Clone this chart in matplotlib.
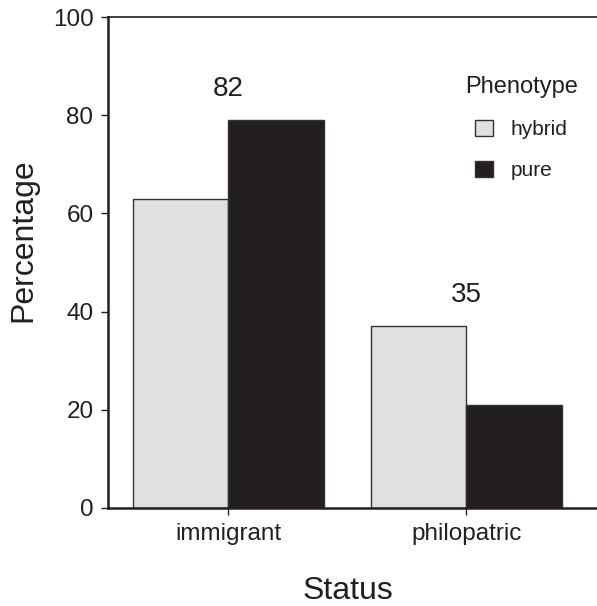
import matplotlib
matplotlib.use("Agg")
import matplotlib.pyplot as plt
from matplotlib.patches import Patch
import numpy as np

plt.rcParams['font.family'] = ['Liberation Sans', 'DejaVu Sans']

categories = ["immigrant", "philopatric"]
phenotypes = ["hybrid", "pure"]
hybrid_vals = [63, 37]
pure_vals = [79, 21]
group_counts = ["82", "35"]
yticks = [0, 20, 40, 60, 80, 100]

c_hybrid = "#dfe0e2"
c_pure = "#231f20"
c_edge = "#333333"
c_text = "#231f20"

W, H = 597, 606
fig = plt.figure(figsize=(W / 100, H / 100), dpi=100)
ax_l, ax_r, ax_b, ax_t = 108, 597, 508, 17
ax = fig.add_axes([ax_l / W, (H - ax_b) / H, (ax_r - ax_l) / W, (ax_b - ax_t) / H])

x = np.arange(len(categories))
bw = 0.4
ax.bar(x - bw / 2, hybrid_vals, bw, color=c_hybrid, edgecolor=c_edge, linewidth=1.0, zorder=2)
ax.bar(x + bw / 2, pure_vals, bw, color=c_pure, edgecolor=c_edge, linewidth=1.0, zorder=2)

for xi, h, p, lab in zip(x, hybrid_vals, pure_vals, group_counts):
    ax.text(xi, max(h, p) + 6.3, lab, ha='center', va='center', fontsize=20, color=c_text)

ax.set_xlim(-0.505, 1.548)
ax.set_ylim(0, 100)
ax.set_xticks(x)
ax.set_xticklabels(categories)
ax.set_yticks(yticks)
ax.set_yticklabels([str(v) for v in yticks])
ax.tick_params(axis='both', length=5, width=1, color='#231f20', labelcolor='#231f20',
               labelsize=17.5, pad=5.5)
ax.tick_params(axis='x', pad=5.5)

ax.spines['right'].set_visible(False)
ax.spines['top'].set_linewidth(1.2)
ax.spines['left'].set_linewidth(1.8)
ax.spines['bottom'].set_linewidth(1.8)
for s in ax.spines.values():
    s.set_color('#231f20')

fig.text(23 / W, (H - 240) / H, "Percentage", rotation=90, ha='center', va='center',
         fontsize=23, color=c_text)
fig.text(348 / W, (H - 599) / H, "Status", ha='center', va='baseline',
         fontsize=23, color=c_text)

handles = [Patch(facecolor=c_hybrid, edgecolor=c_edge, linewidth=1.0),
           Patch(facecolor=c_pure, edgecolor=c_edge, linewidth=1.0)]
leg = fig.legend(handles, phenotypes, title="Phenotype", loc='upper center',
                 bbox_to_anchor=(521.5 / W, (H - 65.5) / H), frameon=False,
                 fontsize=15, title_fontsize=17, borderpad=0,
                 handlelength=0.85, handleheight=0.8, handletextpad=0.86,
                 labelspacing=1.05)
for t in leg.get_texts():
    t.set_color(c_text)
leg.get_title().set_color(c_text)

fig.savefig("out.png", dpi=100)
